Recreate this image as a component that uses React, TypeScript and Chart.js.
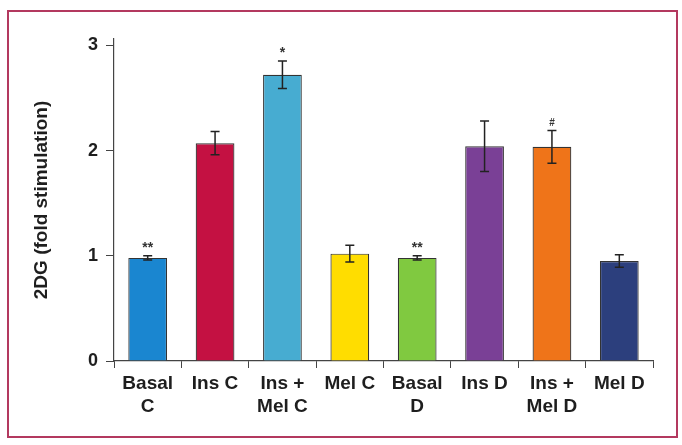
import React, { useEffect, useRef } from "react";
import { Chart, registerables } from "chart.js";

Chart.register(...registerables);

const categories: string[][] = [
  ["Basal", "C"],
  ["Ins C"],
  ["Ins +", "Mel C"],
  ["Mel C"],
  ["Basal", "D"],
  ["Ins D"],
  ["Ins +", "Mel D"],
  ["Mel D"],
];
const values = [0.98, 2.07, 2.72, 1.02, 0.98, 2.04, 2.035, 0.95];
const errors = [0.02, 0.11, 0.13, 0.08, 0.02, 0.24, 0.155, 0.06];
const barColors = [
  "#1a86d0",
  "#c41142",
  "#47acd1",
  "#ffdd00",
  "#80c940",
  "#7a4096",
  "#ef7419",
  "#2c3f7d",
];
const marks = ["**", "", "*", "", "**", "", "#", ""];
const markValues = [1.1, 0, 2.955, 0, 1.1, 0, 2.29, 0];
const markSizes = [14, 0, 14, 0, 14, 0, 10, 0];
const yTicks = [0, 1, 2, 3];

const FONT = "'Liberation Sans', Arial, Helvetica, sans-serif";

const framePlugin = {
  id: "frame",
  beforeDraw(chart: any) {
    const ctx = chart.ctx;
    ctx.save();
    ctx.fillStyle = "#ffffff";
    ctx.fillRect(0, 0, chart.width, chart.height);
    ctx.strokeStyle = "#b3395f";
    ctx.lineWidth = 2;
    ctx.strokeRect(8, 11, 669, 426);
    ctx.restore();
  },
};

const errorBarPlugin = {
  id: "errorBars",
  afterDatasetsDraw(chart: any) {
    const ctx = chart.ctx;
    const meta = chart.getDatasetMeta(0);
    const y = chart.scales.y;
    ctx.save();
    ctx.strokeStyle = "#222222";
    ctx.lineWidth = 1.5;
    meta.data.forEach((bar: any, i: number) => {
      const x = bar.x;
      const top = y.getPixelForValue(values[i] + errors[i]);
      const bot = y.getPixelForValue(values[i] - errors[i]);
      const cap = 4.5;
      ctx.beginPath();
      ctx.moveTo(x, top);
      ctx.lineTo(x, bot);
      ctx.moveTo(x - cap, top);
      ctx.lineTo(x + cap, top);
      ctx.moveTo(x - cap, bot);
      ctx.lineTo(x + cap, bot);
      ctx.stroke();
    });
    ctx.fillStyle = "#333333";
    ctx.textAlign = "center";
    ctx.textBaseline = "middle";
    meta.data.forEach((bar: any, i: number) => {
      if (!marks[i]) return;
      ctx.font = `bold ${markSizes[i]}px ${FONT}`;
      ctx.fillText(marks[i], bar.x, y.getPixelForValue(markValues[i]) + 3);
    });
    ctx.restore();
  },
};

export default function App() {
  const ref = useRef<HTMLCanvasElement | null>(null);
  useEffect(() => {
    if (!ref.current) return;
    const chart = new Chart(ref.current, {
      type: "bar",
      data: {
        labels: categories,
        datasets: [
          {
            data: values,
            backgroundColor: barColors,
            borderColor: "#333333",
            borderWidth: 1.2,
            barPercentage: 0.575,
            categoryPercentage: 1,
          },
        ],
      },
      options: {
        animation: false,
        responsive: false,
        maintainAspectRatio: false,
        devicePixelRatio: 1,
        layout: { padding: { top: 39, right: 29, left: 0, bottom: 0 } },
        plugins: {
          legend: { display: false },
          tooltip: { enabled: false },
        },
        scales: {
          x: {
            offset: true,
            grid: {
              offset: true,
              drawOnChartArea: false,
              drawTicks: true,
              tickLength: 7,
              color: "#444444",
              lineWidth: 1,
            },
            border: { display: true, color: "#444444", width: 1.2 },
            ticks: {
              color: "#1e1e1e",
              font: { family: FONT, size: 19, weight: "bold", lineHeight: 1.17 },
              padding: 5,
              maxRotation: 0,
              autoSkip: false,
            },
            afterFit(scale: any) {
              scale.height = 84;
            },
          },
          y: {
            min: 0,
            max: 3.06,
            afterBuildTicks(scale: any) {
              scale.ticks = yTicks.map((v) => ({ value: v }));
            },
            grid: {
              drawOnChartArea: false,
              drawTicks: true,
              tickLength: 8,
              color: "#444444",
              lineWidth: 1,
            },
            border: { display: true, color: "#444444", width: 1.2 },
            ticks: {
              color: "#1e1e1e",
              font: { family: FONT, size: 18, weight: "bold" },
              padding: 8,
              callback: (v: any) => String(v),
            },
            title: {
              display: true,
              text: "2DG (fold stimulation)",
              color: "#1e1e1e",
              font: { family: FONT, size: 19, weight: "bold", lineHeight: 1.2 },
              padding: { top: 30, bottom: 0 },
            },
            afterFit(scale: any) {
              scale.width = 114;
            },
          },
        },
      },
      plugins: [framePlugin, errorBarPlugin],
    });
    return () => chart.destroy();
  }, []);
  return (
    <div
      style={{
        position: "fixed",
        left: 0,
        top: 0,
        width: 682,
        height: 445,
        background: "#ffffff",
      }}
    >
      <canvas ref={ref} width={682} height={445} style={{ width: 682, height: 445, display: "block" }} />
    </div>
  );
}
